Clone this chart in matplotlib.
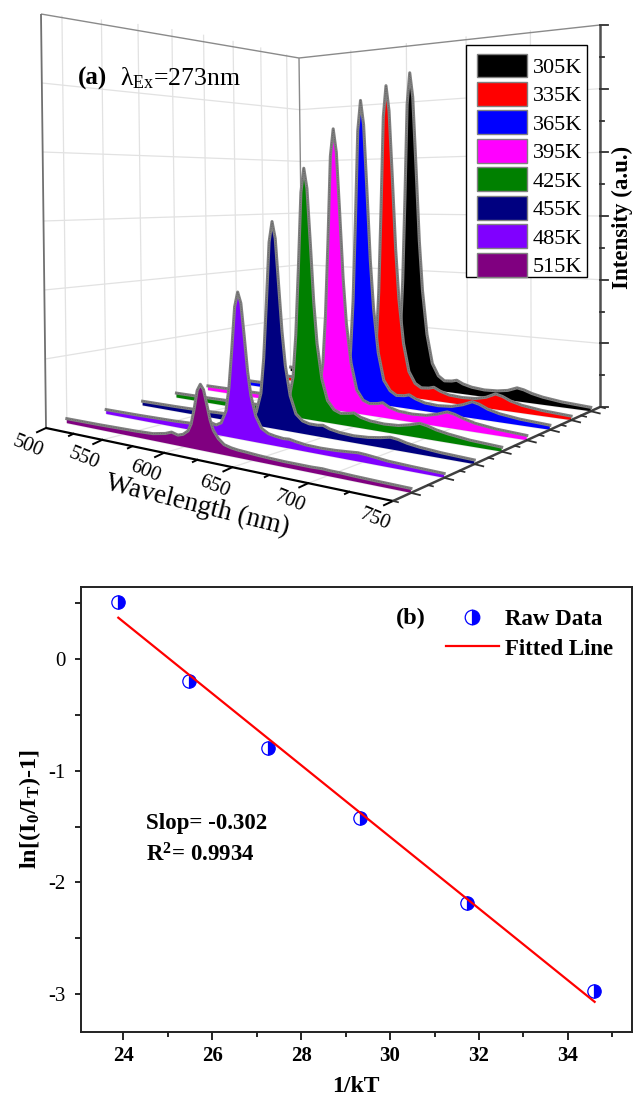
import numpy as np
import matplotlib
matplotlib.use('Agg')
import matplotlib.pyplot as plt
from matplotlib.patches import Patch, Rectangle
from matplotlib.lines import Line2D

plt.rcParams['font.family'] = ['Liberation Serif', 'DejaVu Sans']
plt.rcParams['mathtext.fontset'] = 'custom'
plt.rcParams['mathtext.rm'] = 'Liberation Serif'
plt.rcParams['mathtext.it'] = 'Liberation Serif:italic'
plt.rcParams['mathtext.bf'] = 'Liberation Serif:bold'

# ---------- data ----------
temps = ['305K', '335K', '365K', '395K', '425K', '455K', '485K', '515K']
colors = ['#000000', '#FF0000', '#0000FF', '#FF00FF', '#008000', '#000080', '#8000FF', '#800080']
wavelength = [500, 530, 560, 575, 585, 590, 595, 599, 602.9, 605.3, 607.7, 610.1, 612.5, 614.9, 617.3, 619.7, 622.1,
              625.7, 630, 635, 640, 646, 650, 655, 662, 672, 682, 690, 697, 702, 708, 716, 730, 750]
s305 = [.012, .012, .013, .015, .018, .022, .020, .036, .145, .30, .54, .81, .90, .83, .63, .42, .28,
        .155, .075, .042, .03, .032, .036, .028, .022, .019, .021, .026, .036, .033, .026, .020, .014, .010]
s335 = [.012, .012, .013, .015, .019, .023, .021, .036, .135, .28, .51, .765, .85, .78, .595, .40, .265,
        .145, .07, .04, .03, .032, .036, .028, .021, .019, .021, .028, .040, .036, .027, .020, .014, .010]
s365 = [.012, .013, .014, .016, .020, .025, .022, .036, .13, .265, .48, .72, .80, .735, .56, .375, .25,
        .135, .065, .04, .03, .032, .036, .028, .021, .019, .022, .030, .041, .037, .028, .021, .015, .011]
s395 = [.012, .013, .014, .017, .021, .026, .023, .036, .115, .24, .43, .65, .72, .66, .505, .34, .225,
        .125, .06, .036, .03, .033, .037, .028, .022, .020, .022, .029, .038, .035, .028, .021, .015, .011]
s425 = [.012, .013, .015, .017, .022, .027, .024, .035, .10, .205, .37, .56, .62, .57, .435, .29, .19,
        .105, .054, .034, .028, .031, .034, .026, .021, .019, .021, .027, .034, .031, .025, .020, .014, .010]
s455 = [.011, .012, .014, .016, .021, .026, .023, .032, .08, .165, .30, .445, .495, .455, .345, .235, .155,
        .085, .044, .03, .026, .026, .028, .022, .018, .016, .018, .022, .027, .025, .020, .016, .012, .009]
s485 = [.011, .012, .014, .016, .021, .027, .023, .03, .06, .115, .205, .305, .34, .315, .24, .16, .105,
        .06, .034, .025, .022, .02, .021, .018, .015, .014, .015, .017, .019, .018, .016, .013, .011, .009]
s515 = [.011, .012, .014, .016, .022, .028, .024, .028, .038, .055, .09, .133, .148, .137, .105, .072, .05,
        .034, .023, .019, .017, .016, .015, .014, .013, .012, .012, .012, .013, .012, .012, .011, .010, .009]
spectra = [s305, s335, s365, s395, s425, s455, s485, s515]
wl_ticks = [500, 550, 600, 650, 700, 750]

one_over_kT = [23.89, 25.47, 27.26, 29.33, 31.74, 34.58]
ln_ratio = [0.51, -0.194, -0.80, -1.424, -2.185, -2.97]
fit_x = [23.89, 34.6]
fit_y = [0.37, -3.07]

# ---------- figure ----------
W_PX, H_PX = 633, 1096
fig = plt.figure(figsize=(W_PX / 100, H_PX / 100), dpi=100)
axa = fig.add_axes([0, 0, 1, 1])
axa.set_xlim(0, W_PX)
axa.set_ylim(H_PX, 0)
axa.axis('off')

# perspective box of panel (a): floor corners, heights and tilt of the walls
P00, P10, P11, P01 = (46, 428), (393, 501), (600, 407), (303, 368)
H00, H10, H11, H01 = 414, 500, 382, 310
T00, T10, T11, T01 = 5, 0, 0, 4
sx = P00[0] - P10[0] + P11[0] - P01[0]
sy = P00[1] - P10[1] + P11[1] - P01[1]
dx1, dx2 = P10[0] - P11[0], P01[0] - P11[0]
dy1, dy2 = P10[1] - P11[1], P01[1] - P11[1]
det = dx1 * dy2 - dx2 * dy1
g = (sx * dy2 - dx2 * sy) / det
h = (dx1 * sy - sx * dy1) / det
a, b, c = P10[0] - P00[0] + g * P10[0], P01[0] - P00[0] + h * P01[0], P00[0]
d, e, f = P10[1] - P00[1] + g * P10[1], P01[1] - P00[1] + h * P01[1], P00[1]


def bil(q00, q10, q11, q01, u, v):
    return q00 * (1 - u) * (1 - v) + q10 * u * (1 - v) + q11 * u * v + q01 * (1 - u) * v


def project(wl, v, z):
    wl, v, z = np.broadcast_arrays(np.asarray(wl, float), np.asarray(v, float), np.asarray(z, float))
    u = (wl - 500) / 250
    w = g * u + h * v + 1
    x = (a * u + b * v + c) / w - z * bil(T00, T10, T11, T01, u, v)
    y = (d * u + e * v + f) / w - z * bil(H00, H10, H11, H01, u, v)
    return x, y


def seg(p, q, n=2, **kw):
    t = np.linspace(0, 1, n)
    x, y = project(p[0] + (q[0] - p[0]) * t, p[1] + (q[1] - p[1]) * t, p[2] + (q[2] - p[2]) * t)
    axa.plot(x, y, solid_capstyle='butt', **kw)


GRID = dict(color='#e2e2e2', lw=0.9, zorder=1)
n = len(temps)
series_v = [(n - 1 - i + 0.5) / n for i in range(n)]   # index 0 (305K) is at the back
for k in range(1, 6):
    z = k / 6
    seg((500, 0, z), (500, 1, z), **GRID)
    seg((500, 1, z), (750, 1, z), **GRID)
for v in series_v:
    seg((500, v, 0), (500, v, 1), **GRID)
    seg((500, v, 0), (750, v, 0), **GRID)
for wl in wl_ticks[1:-1]:
    seg((wl, 1, 0), (wl, 1, 1), **GRID)
    seg((wl, 0, 0), (wl, 1, 0), **GRID)

EDGE = dict(color='#8a8a8a', lw=1.0, zorder=2)
seg((500, 0, 1), (500, 1, 1), **EDGE)
seg((500, 1, 1), (750, 1, 1), **EDGE)
seg((500, 1, 0), (500, 1, 1), **EDGE)
seg((500, 0, 0), (500, 0, 1), color='#707070', lw=1.3, zorder=2)

# spectra, back to front
for i, (vals, col, v) in enumerate(zip(spectra, colors, series_v)):
    zo = 5 + i
    xs, ys = project(wavelength, v, vals)
    bx, by = project(wavelength, v, 0)
    axa.fill(np.r_[xs, bx[::-1]], np.r_[ys, by[::-1]], facecolor=col, edgecolor='none', zorder=zo)
    axa.plot(xs, ys, color='#808080', lw=2.2, zorder=zo + 0.1, solid_joinstyle='round')
    axa.plot(xs, ys, color='#5a5a5a', lw=0.5, ls=(0, (1, 1.5)), zorder=zo + 0.2)

# wavelength axis
seg((500, 0, 0), (750, 0, 0), color='black', lw=1.6, zorder=20)
TK = dict(color='black', zorder=20)
for wl in np.arange(500, 751, 25):
    major = (wl - 500) % 50 == 0
    x0, y0 = project(wl, 0, 0)
    L = 10 if major else 5
    axa.plot([x0, x0 - L * 0.9], [y0, y0 + L * 0.42], lw=1.4, **TK)
for wl in wl_ticks:
    x0, y0 = project(wl, 0, 0)
    axa.text(x0 - 18.5, y0 + 19, str(wl), fontsize=15, rotation=-22, ha='center', va='center',
             rotation_mode='anchor', zorder=21)
axa.text(197, 506, 'Wavelength (nm)', fontsize=19.5, rotation=-14, ha='center', va='center',
         rotation_mode='anchor', zorder=21)

# series axis
seg((750, 0, 0), (750, 1, 0), color='#404040', lw=1.8, zorder=20)
for v in series_v:
    x0, y0 = project(750, v, 0)
    axa.plot([x0, x0 + 9], [y0, y0 + 2.2], color='#303030', lw=1.3, zorder=20)
for k in range(0, n + 1):
    x0, y0 = project(750, k / n, 0)
    axa.plot([x0, x0 + 5], [y0, y0 + 1.2], color='#303030', lw=1.2, zorder=20)

# intensity axis
seg((750, 1, 0), (750, 1, 1), color='#505050', lw=1.8, zorder=20)
for k in range(13):
    x0, y0 = project(750, 1, k / 12)
    axa.plot([x0, x0 + (7.5 if k % 2 == 0 else 4)], [y0, y0], color='#303030', lw=1.3, zorder=20)
axa.text(622, 217, 'Intensity (a.u.)', fontsize=16.5, fontweight='bold', rotation=90,
         ha='center', va='center', zorder=21)

axa.text(78, 78, '(a)', fontsize=18, fontweight='bold', ha='left', va='center', zorder=21)
axa.text(120, 78, 'λ$_{\\mathrm{Ex}}$=273nm', fontsize=18.5, ha='left', va='center', zorder=21)

axa.add_patch(Rectangle((466, 45), 121, 232, facecolor='white', edgecolor='black', lw=1.0, zorder=29))
handles = [Patch(facecolor=c, edgecolor='#808080', lw=1) for c in colors]
leg = axa.legend(handles, temps, loc='upper left', bbox_to_anchor=(477, 53.5),
                 bbox_transform=axa.transData, fontsize=16, frameon=False, borderaxespad=0, borderpad=0,
                 handlelength=2.25, handleheight=1.27, labelspacing=0.185, handletextpad=0.27)
leg.set_zorder(30)

# ---------- panel (b) ----------
L, R, T, B = 80.5, 632, 587, 1032
axb = fig.add_axes([L / W_PX, 1 - B / H_PX, (R - L) / W_PX, (B - T) / H_PX])
axb.set_facecolor('none')
axb.set_xlim(23.04, 35.44)
axb.set_ylim(-3.34, 0.645)
axb.plot(fit_x, fit_y, color='#FF0000', lw=1.6, zorder=4, label='Fitted Line')
axb.plot(one_over_kT, ln_ratio, ls='none', marker='o', ms=9.6, fillstyle='right', color='#0000FF',
         markerfacecoloralt='white', mec='#0000FF', mew=0.9, zorder=3, label='Raw Data')
axb.set_xticks([24, 26, 28, 30, 32, 34])
axb.set_xticks([25, 27, 29, 31, 33, 35], minor=True)
axb.set_yticks([0, -1, -2, -3])
axb.set_yticklabels(['0', '-1', '-2', '-3'])
axb.set_yticks([0.5, -0.5, -1.5, -2.5], minor=True)
axb.tick_params(which='major', length=6, width=1.2, labelsize=15, pad=4)
axb.tick_params(which='minor', length=3.5, width=1.2)
axb.tick_params(axis='y', which='major', length=4.5, pad=6)
axb.tick_params(axis='y', which='minor', length=4)
for lab in axb.get_xticklabels():
    lab.set_fontweight('bold')
for sp in axb.spines.values():
    sp.set_linewidth(1.4)
    sp.set_color('#222222')
axb.set_xlabel('1/kT', fontsize=17, fontweight='bold', labelpad=7)
axb.set_ylabel(r'ln[(I$\mathbf{_0}$/I$\mathbf{_T}$)-1]', fontsize=17.5, fontweight='bold', labelpad=4)

hs = [Line2D([], [], ls='none', marker='o', ms=10.5, fillstyle='right', color='#0000FF',
             markerfacecoloralt='white', mec='#0000FF', mew=0.9),
      Line2D([], [], color='#FF0000', lw=1.6)]
lg = fig.legend(hs, ['Raw Data', 'Fitted Line'], loc='upper left',
                bbox_to_anchor=(446 / W_PX, 1 - 608.5 / H_PX), frameon=False, borderpad=0, borderaxespad=0,
                prop={'family': 'Liberation Serif', 'weight': 'bold', 'size': 16.5},
                handlelength=2.3, labelspacing=0.39, handletextpad=0.28)
axa.text(396, 618, '(b)', fontsize=17.5, fontweight='bold', va='center', zorder=21)
axa.text(146, 823, 'Slop= -0.302', fontsize=16.5, fontweight='bold', va='center', zorder=21)
axa.text(146, 855, r'R$\mathbf{^2}$= 0.9934', fontsize=16.5, fontweight='bold', va='center', zorder=21)

fig.savefig('out.png', dpi=100, facecolor='white')
